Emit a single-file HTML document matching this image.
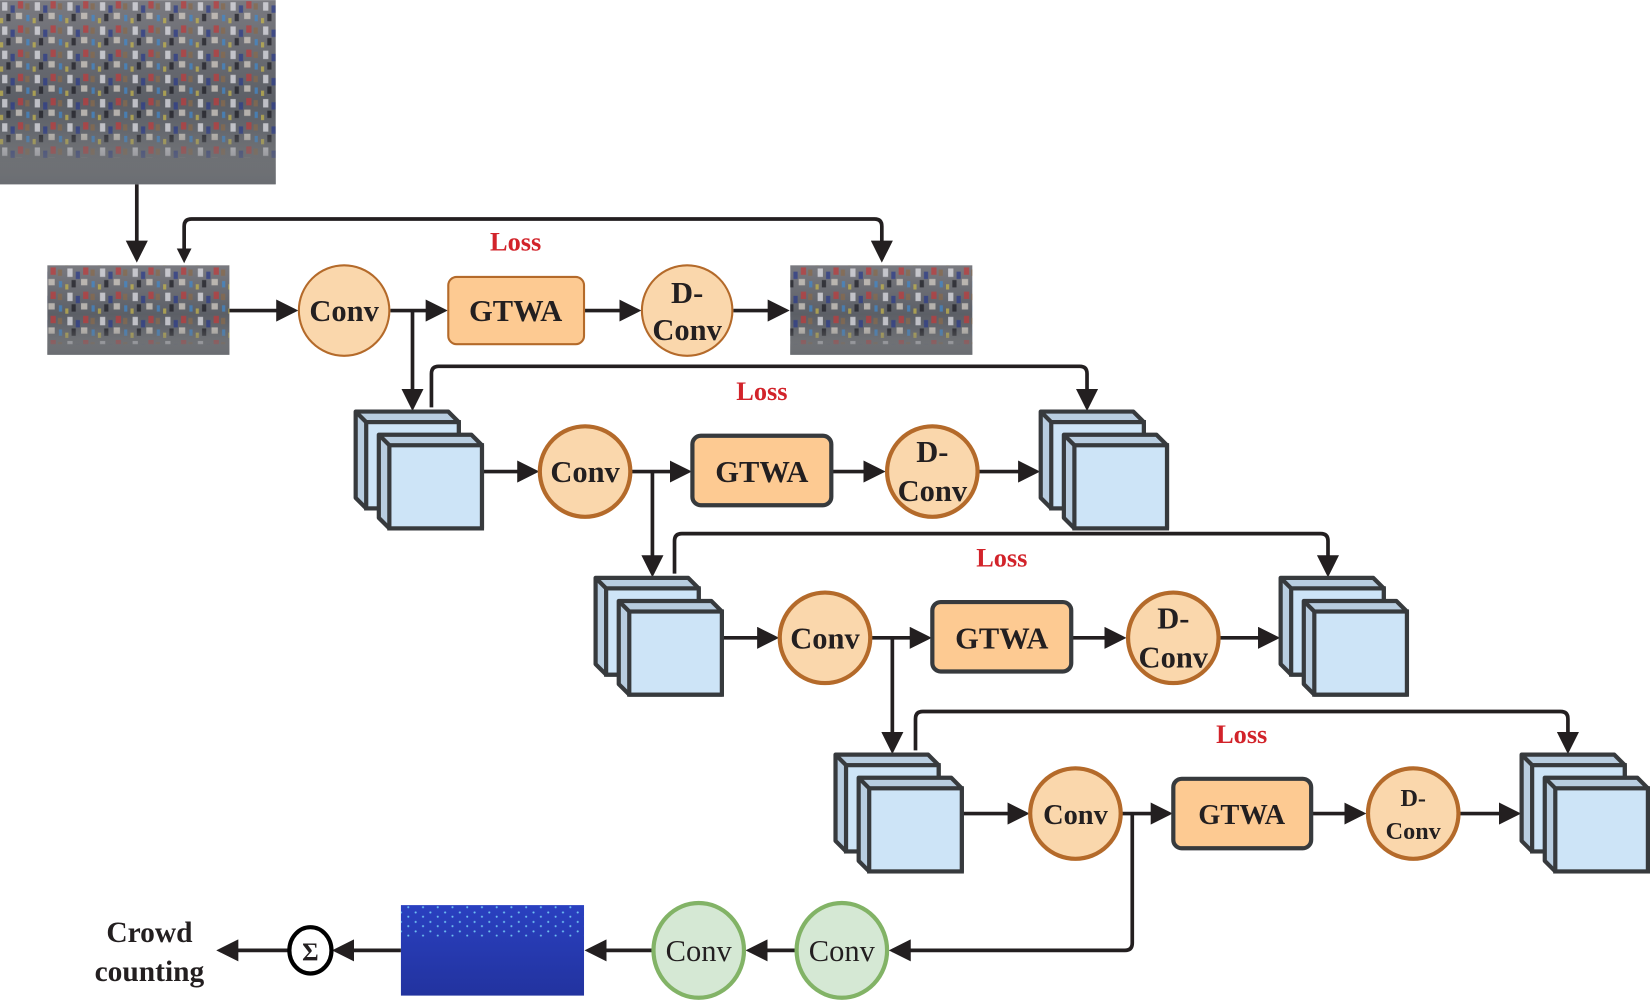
<!DOCTYPE html>
<html><head><meta charset="utf-8"><style>
html,body{margin:0;padding:0;background:#fff;}
svg{display:block;}
text{font-family:"Liberation Serif",serif;}
</style></head><body>
<svg width="1650" height="1001" viewBox="0 0 1568 951" xmlns="http://www.w3.org/2000/svg">
<defs>
<marker id="ah" markerWidth="6" markerHeight="6" refX="5" refY="3" orient="auto" markerUnits="strokeWidth">
<path d="M0,0 L6,3 L0,6 z" fill="#231f20"/></marker>
<linearGradient id="photo" x1="0" y1="0" x2="0" y2="1">
<stop offset="0" stop-color="#7a7a80"/><stop offset="0.55" stop-color="#5c5f66"/><stop offset="1" stop-color="#74777c"/></linearGradient>
<pattern id="crowd" width="31" height="23" patternUnits="userSpaceOnUse">
<rect x="2" y="2" width="5" height="8" fill="#e8e8ee"/><rect x="10" y="5" width="4" height="7" fill="#2a3a8a"/>
<rect x="17" y="1" width="5" height="7" fill="#c23a3a"/><rect x="6" y="13" width="4" height="7" fill="#1b1b22"/>
<rect x="15" y="12" width="6" height="6" fill="#d9d2c8"/><rect x="25" y="14" width="3" height="6" fill="#3f8ad0"/>
<rect x="24" y="3" width="4" height="6" fill="#8a6a4a"/><rect x="0" y="17" width="3" height="5" fill="#c8b84a"/>
</pattern>
<linearGradient id="fade" x1="0" y1="0" x2="0" y2="1">
<stop offset="0" stop-color="#777" stop-opacity="0"/><stop offset="0.7" stop-color="#777" stop-opacity="0"/><stop offset="1" stop-color="#6a6d72" stop-opacity="1"/></linearGradient>
<linearGradient id="dens" x1="0" y1="0" x2="0" y2="1">
<stop offset="0" stop-color="#2a40c0"/><stop offset="1" stop-color="#22339f"/></linearGradient>
<pattern id="dots" width="14" height="9" patternUnits="userSpaceOnUse">
<circle cx="3" cy="3" r="1" fill="#7fe0ff"/><circle cx="10" cy="7" r="1" fill="#7fe0ff"/></pattern>
<g id="cube">
<polygon points="0,0 88,0 98,10 98,92 10,92 0,82" fill="#b8cde0" stroke="#373a3d" stroke-width="4" stroke-linejoin="round"/>
<rect x="10" y="10" width="88" height="82" fill="#cde4f7" stroke="#373a3d" stroke-width="4"/>
<line x1="0" y1="0" x2="10" y2="10" stroke="#373a3d" stroke-width="4"/>
<polygon points="22,22 110,22 120,32 120,111 32,111 22,101" fill="#b8cde0" stroke="#373a3d" stroke-width="4" stroke-linejoin="round"/>
<rect x="32" y="32" width="88" height="79" fill="#cde4f7" stroke="#373a3d" stroke-width="4"/>
<line x1="22" y1="22" x2="32" y2="32" stroke="#373a3d" stroke-width="4"/>
</g>
</defs>

<g stroke="#231f20" stroke-width="3.5" fill="none">
<line x1="130" y1="175" x2="130" y2="246" marker-end="url(#ah)"/>
<path d="M175,240 V215 Q175,208 182,208 H831 Q838,208 838,215 V246" marker-end="url(#ah)"/>
<line x1="218" y1="295" x2="280" y2="295" marker-end="url(#ah)"/>
<line x1="371" y1="295" x2="422" y2="295" marker-end="url(#ah)"/>
<line x1="555" y1="295" x2="606" y2="295" marker-end="url(#ah)"/>
<line x1="697" y1="295" x2="747" y2="295" marker-end="url(#ah)"/>
<line x1="392" y1="295" x2="392" y2="387" marker-end="url(#ah)"/>
<path d="M410,387 V355 Q410,348 417,348 H1026 Q1033,348 1033,355 V387" marker-end="url(#ah)"/>
<line x1="458" y1="448" x2="509" y2="448" marker-end="url(#ah)"/>
<line x1="600" y1="448" x2="654" y2="448" marker-end="url(#ah)"/>
<line x1="790" y1="448" x2="838" y2="448" marker-end="url(#ah)"/>
<line x1="930" y1="448" x2="985" y2="448" marker-end="url(#ah)"/>
<line x1="620" y1="448" x2="620" y2="545" marker-end="url(#ah)"/>
<path d="M641,545 V514 Q641,507 648,507 H1255 Q1262,507 1262,514 V545" marker-end="url(#ah)"/>
<line x1="687" y1="606" x2="737" y2="606" marker-end="url(#ah)"/>
<line x1="828" y1="606" x2="882" y2="606" marker-end="url(#ah)"/>
<line x1="1018" y1="606" x2="1067" y2="606" marker-end="url(#ah)"/>
<line x1="1159" y1="606" x2="1213" y2="606" marker-end="url(#ah)"/>
<line x1="848" y1="606" x2="848" y2="713" marker-end="url(#ah)"/>
<path d="M870,713 V683 Q870,676 877,676 H1483 Q1490,676 1490,683 V713" marker-end="url(#ah)"/>
<line x1="915" y1="773" x2="975" y2="773" marker-end="url(#ah)"/>
<line x1="1066" y1="773" x2="1111" y2="773" marker-end="url(#ah)"/>
<line x1="1246" y1="773" x2="1295" y2="773" marker-end="url(#ah)"/>
<line x1="1387" y1="773" x2="1442" y2="773" marker-end="url(#ah)"/>
<path d="M1076,773 V896 Q1076,903 1069,903 H848" marker-end="url(#ah)"/>
<line x1="756" y1="903" x2="712" y2="903" marker-end="url(#ah)"/>
<line x1="620" y1="903" x2="559" y2="903" marker-end="url(#ah)"/>
<line x1="381" y1="903" x2="319" y2="903" marker-end="url(#ah)"/>
<line x1="274" y1="903" x2="209" y2="903" marker-end="url(#ah)"/>
</g>
<path d="M168,236 L182,236 L175,250 z" fill="#231f20"/>

<g>
<rect x="0" y="0" width="262" height="175" fill="url(#photo)"/>
<rect x="0" y="0" width="262" height="150" fill="url(#crowd)" opacity="0.7"/>
<rect x="0" y="0" width="262" height="175" fill="url(#fade)"/>
<rect x="45" y="252" width="173" height="85" fill="url(#photo)"/>
<rect x="45" y="252" width="173" height="75" fill="url(#crowd)" opacity="0.7"/>
<rect x="45" y="252" width="173" height="85" fill="url(#fade)"/>
<rect x="751" y="252" width="173" height="85" fill="url(#photo)"/>
<rect x="751" y="252" width="173" height="75" fill="url(#crowd)" opacity="0.7"/>
<rect x="751" y="252" width="173" height="85" fill="url(#fade)"/>
</g>

<g fill="#d2232a" font-weight="bold" font-size="25" text-anchor="middle">
<text x="490" y="238">Loss</text><text x="724" y="380">Loss</text>
<text x="952" y="538">Loss</text><text x="1180" y="706">Loss</text>
</g>

<g font-weight="bold" font-size="29" text-anchor="middle" fill="#231f20">
<circle cx="327" cy="295" r="43" fill="#fad7ac" stroke="#b46a2a" stroke-width="2"/><text x="327" y="305">Conv</text>
<rect x="426" y="263" width="129" height="64" rx="8" fill="#fdca92" stroke="#b46a2a" stroke-width="2"/><text x="490" y="305">GTWA</text>
<circle cx="653" cy="295" r="43" fill="#fad7ac" stroke="#b46a2a" stroke-width="2"/><text x="653" y="288">D-</text><text x="653" y="323">Conv</text>

<use href="#cube" x="338" y="391"/>
<circle cx="556" cy="448" r="43" fill="#fad7ac" stroke="#b46a2a" stroke-width="4"/><text x="556" y="458">Conv</text>
<rect x="658" y="414" width="132" height="66" rx="8" fill="#fdca92" stroke="#373a3d" stroke-width="4"/><text x="724" y="458">GTWA</text>
<circle cx="886" cy="448" r="43" fill="#fad7ac" stroke="#b46a2a" stroke-width="4"/><text x="886" y="439">D-</text><text x="886" y="476">Conv</text>
<use href="#cube" x="989" y="391"/>

<use href="#cube" x="566" y="549"/>
<circle cx="784" cy="606" r="43" fill="#fad7ac" stroke="#b46a2a" stroke-width="4"/><text x="784" y="616">Conv</text>
<rect x="886" y="572" width="132" height="66" rx="8" fill="#fdca92" stroke="#373a3d" stroke-width="4"/><text x="952" y="616">GTWA</text>
<circle cx="1115" cy="606" r="43" fill="#fad7ac" stroke="#b46a2a" stroke-width="4"/><text x="1115" y="597">D-</text><text x="1115" y="634">Conv</text>
<use href="#cube" x="1217" y="549"/>

<use href="#cube" x="794" y="717"/>
<g font-size="27">
<circle cx="1022" cy="773" r="43" fill="#fad7ac" stroke="#b46a2a" stroke-width="4"/><text x="1022" y="783">Conv</text>
<rect x="1115" y="740" width="131" height="66" rx="8" fill="#fdca92" stroke="#373a3d" stroke-width="4"/><text x="1180" y="783">GTWA</text>
</g>
<g font-size="23">
<circle cx="1343" cy="773" r="43" fill="#fad7ac" stroke="#b46a2a" stroke-width="4"/><text x="1343" y="766">D-</text><text x="1343" y="797">Conv</text>
</g>
<use href="#cube" x="1446" y="717"/>

<g font-weight="normal" font-size="29">
<ellipse cx="664" cy="903" rx="43" ry="45" fill="#d5e8d4" stroke="#82b366" stroke-width="4"/><text x="664" y="913">Conv</text>
<ellipse cx="800" cy="903" rx="43" ry="45" fill="#d5e8d4" stroke="#82b366" stroke-width="4"/><text x="800" y="913">Conv</text>
</g>
<rect x="381" y="860" width="174" height="86" fill="url(#dens)"/>
<rect x="381" y="860" width="174" height="30" fill="url(#dots)" opacity="0.8"/>
<ellipse cx="295" cy="903" rx="20" ry="22" fill="#fff" stroke="#000" stroke-width="4"/>
<text x="295" y="912" font-size="24">Σ</text>
<text x="142" y="895" font-size="28">Crowd</text>
<text x="142" y="932" font-size="28">counting</text>
</g>
</svg>
</body></html>
